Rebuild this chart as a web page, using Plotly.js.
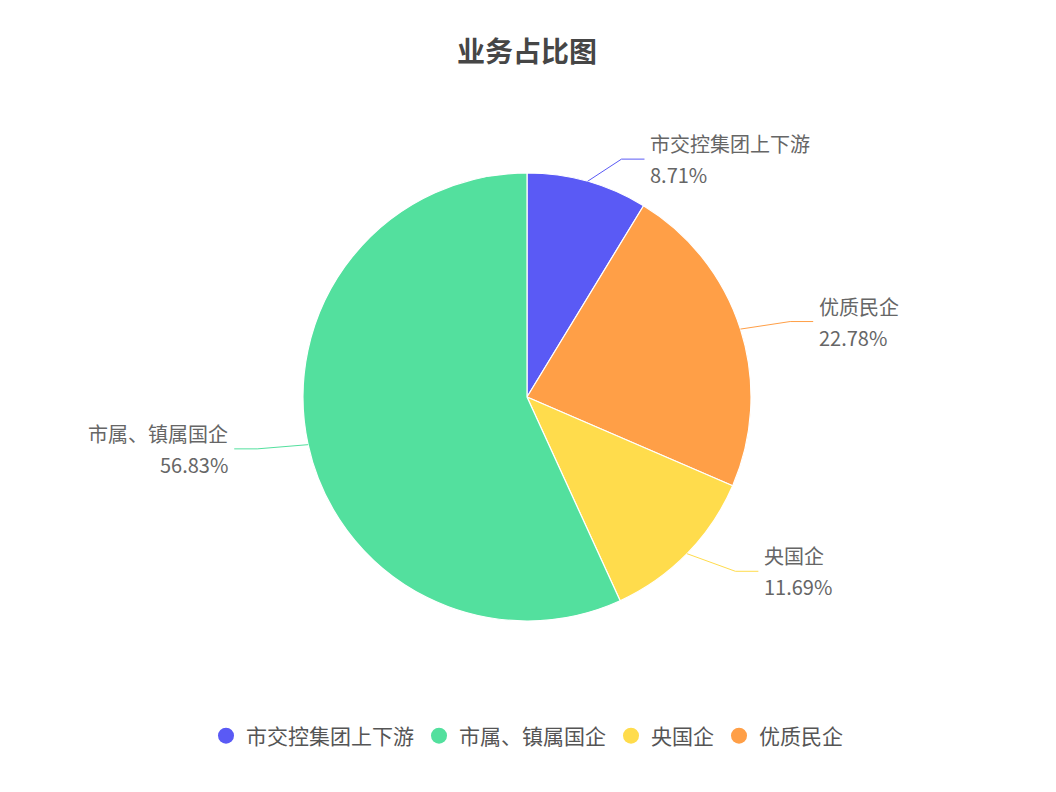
<!DOCTYPE html>
<html><head><meta charset="utf-8">
<script src="https://cdn.plot.ly/plotly-3.0.1.min.js"></script>
<style>html,body{margin:0;padding:0;background:#fff}#chart{width:1056px;height:792px}</style>
</head><body><div id="chart"></div>
<script>
// pie slices in clockwise order from 12 o'clock
const categories = ["市交控集团上下游", "优质民企", "央国企", "市属、镇属国企"];
const values = [8.71, 22.78, 11.69, 56.83];
const colors = ["#5a5af5", "#ff9f47", "#ffdc4c", "#53e09e"];
// legend order (indices into categories)
const legendOrder = [0, 3, 2, 1];
const titleText = "业务占比图";
const FONT = "'Noto Sans CJK SC', 'Noto Sans', sans-serif";

const W = 1056, H = 792;
const CX = 527, CY = 397, R = 224;         // pie geometry in px
const L1 = 48, L2 = 23, GAP = 5;           // label line lengths
const nudge = [[21, 24], [4, 7], [14, -16], [-4, -6]]; // label layout tweaks (px)

const px = x => x / W, py = y => 1 - y / H;
const total = values.reduce((a, b) => a + b, 0);

const traces = [{
  type: "pie",
  labels: categories,
  values: values,
  sort: false,
  direction: "clockwise",
  rotation: 0,
  marker: { colors: colors, line: { color: "#ffffff", width: 1.2 } },
  textinfo: "none",
  textposition: "none",
  showlegend: false,
  hoverinfo: "label+value",
  domain: { x: [px(CX - R), px(CX + R)], y: [py(CY + R), py(CY - R)] }
}];
legendOrder.forEach(i => {
  traces.push({
    type: "scatter", mode: "markers", x: [null], y: [null], name: categories[i],
    marker: { color: colors[i], size: 16, symbol: "circle" }, hoverinfo: "skip"
  });
});

const shapes = [], annotations = [];
let cum = 0;
values.forEach((v, i) => {
  const mid = (cum + v / 2) / total * 2 * Math.PI;
  cum += v;
  const dx = Math.sin(mid), dy = -Math.cos(mid);
  const x0 = CX + R * dx, y0 = CY + R * dy;
  const x1 = CX + (R + L1) * dx + nudge[i][0], y1 = CY + (R + L1) * dy + nudge[i][1];
  const right = dx >= 0;
  const x2 = x1 + (right ? L2 : -L2);
  shapes.push({
    type: "path", xref: "paper", yref: "paper",
    path: `M ${px(x0)},${py(y0)} L ${px(x1)},${py(y1)} L ${px(x2)},${py(y1)}`,
    line: { color: colors[i], width: 1 }
  });
  const base = {
    xref: "paper", yref: "paper", x: px(x2 + (right ? GAP : -GAP)), y: py(y1),
    xanchor: right ? "left" : "right", align: right ? "left" : "right",
    showarrow: false, borderpad: 0, font: { family: FONT, size: 20, color: "#666666" }
  };
  annotations.push(Object.assign({}, base, { yanchor: "bottom", text: categories[i] }));
  annotations.push(Object.assign({}, base, { yanchor: "top", text: v.toFixed(2) + "%" }));
});

const layout = {
  width: W, height: H,
  paper_bgcolor: "#ffffff", plot_bgcolor: "#ffffff",
  margin: { l: 0, r: 0, t: 0, b: 0 },
  title: { text: "<b>" + titleText + "</b>", x: px(CX), xanchor: "center", y: py(52), yanchor: "middle",
           font: { family: FONT, size: 28, color: "#464646" } },
  xaxis: { visible: false, showgrid: false, zeroline: false },
  yaxis: { visible: false, showgrid: false, zeroline: false },
  shapes: shapes,
  annotations: annotations,
  showlegend: true,
  legend: { orientation: "h", x: px(CX), xanchor: "center", y: py(736), yanchor: "middle",
            font: { family: FONT, size: 21, color: "#555555" }, traceorder: "normal" }
};
Plotly.newPlot("chart", traces, layout, { displayModeBar: false, responsive: false });
</script></body></html>
